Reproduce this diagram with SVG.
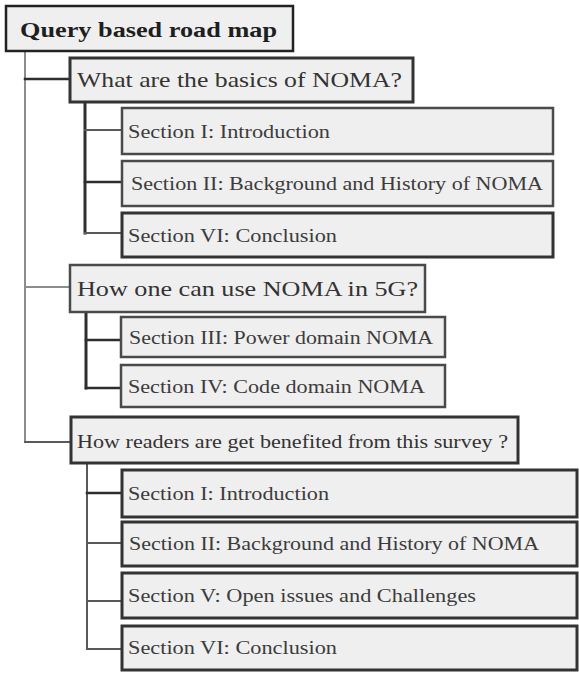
<svg xmlns="http://www.w3.org/2000/svg" width="579" height="673" viewBox="0 0 579 673" font-family="'Liberation Serif', 'Times New Roman', Times, serif">
  <style>
    .box { fill: #efefef; stroke: #4a4a4a; stroke-width: 2.5; }
    .box.heavy { stroke: #333; stroke-width: 3; }
    .root { fill: #efefef; stroke: #222; stroke-width: 2.5; }
    .t-root { font-size: 22px; font-weight: bold; fill: #1e1e1e; }
    .t-q { font-size: 21px; fill: #333; }
    .t-s { font-size: 18px; fill: #3c3c3c; }
    .ln { fill: none; stroke-linecap: square; }
    .light { stroke: #8c8c8c; stroke-width: 2; }
    .mid { stroke: #5a5a5a; stroke-width: 2; }
    .dark { stroke: #2e2e2e; stroke-width: 3; }
  </style>

  <!-- connectors -->
  <g id="connectors">
    <!-- trunk from the root -->
    <line class="ln light" x1="25" y1="51" x2="25" y2="442"/>
    <line class="ln dark" x1="25" y1="79" x2="70" y2="79" style="stroke-width:2.5"/>
    <line class="ln light" x1="25" y1="287" x2="70" y2="287"/>
    <line class="ln mid" x1="25" y1="442" x2="71" y2="442"/>
    <!-- basics branch -->
    <line class="ln dark" x1="85" y1="102" x2="85" y2="233"/>
    <line class="ln mid" x1="85" y1="130" x2="122" y2="130"/>
    <line class="ln dark" x1="85" y1="182" x2="122" y2="182" style="stroke-width:2.5"/>
    <line class="ln mid" x1="85" y1="233" x2="122" y2="233"/>
    <!-- 5G branch -->
    <line class="ln dark" x1="86" y1="312" x2="86" y2="388"/>
    <line class="ln dark" x1="86" y1="340" x2="121" y2="340" style="stroke-width:2.5"/>
    <line class="ln dark" x1="86" y1="388" x2="121" y2="388" style="stroke-width:2.5"/>
    <!-- readers branch -->
    <line class="ln mid" x1="87" y1="463" x2="87" y2="649"/>
    <line class="ln dark" x1="87" y1="493" x2="122" y2="493" style="stroke-width:2.5"/>
    <line class="ln mid" x1="87" y1="543" x2="122" y2="543"/>
    <line class="ln mid" x1="87" y1="601" x2="122" y2="601"/>
    <line class="ln mid" x1="87" y1="649" x2="122" y2="649"/>
  </g>

  <g id="root">
    <rect class="root" x="6" y="6" width="287" height="45"/>
    <text class="t-root" x="20" y="37" textLength="257" lengthAdjust="spacingAndGlyphs">Query based road map</text>
  </g>

  <g id="q-basics">
    <rect class="box heavy" x="70" y="58" width="343" height="44"/>
    <text class="t-q" x="77" y="87" textLength="325" lengthAdjust="spacingAndGlyphs">What are the basics of NOMA?</text>
  </g>
  <g id="basics-s1">
    <rect class="box" x="122" y="108" width="431" height="46"/>
    <text class="t-s" x="128" y="138" textLength="202" lengthAdjust="spacingAndGlyphs">Section I: Introduction</text>
  </g>
  <g id="basics-s2">
    <rect class="box" x="122" y="161" width="431" height="45"/>
    <text class="t-s" x="131" y="190" textLength="412" lengthAdjust="spacingAndGlyphs">Section II: Background and History of NOMA</text>
  </g>
  <g id="basics-s6">
    <rect class="box heavy" x="122" y="213" width="431" height="44"/>
    <text class="t-s" x="128" y="242" textLength="209" lengthAdjust="spacingAndGlyphs">Section VI: Conclusion</text>
  </g>

  <g id="q-5g">
    <rect class="box" x="70" y="265" width="355" height="47"/>
    <text class="t-q" x="77" y="296" textLength="341" lengthAdjust="spacingAndGlyphs">How one can use NOMA in 5G?</text>
  </g>
  <g id="fiveg-s3">
    <rect class="box" x="121" y="317" width="324" height="40"/>
    <text class="t-s" x="129" y="344" textLength="304" lengthAdjust="spacingAndGlyphs">Section III: Power domain NOMA</text>
  </g>
  <g id="fiveg-s4">
    <rect class="box" x="121" y="365" width="324" height="42"/>
    <text class="t-s" x="128" y="393" textLength="297" lengthAdjust="spacingAndGlyphs">Section IV: Code domain NOMA</text>
  </g>

  <g id="q-readers">
    <rect class="box heavy" x="71" y="417" width="447" height="46"/>
    <text class="t-q" x="77" y="448" style="font-size:19px" textLength="431" lengthAdjust="spacingAndGlyphs">How readers are get benefited from this survey ?</text>
  </g>
  <g id="readers-s1">
    <rect class="box heavy" x="122" y="470" width="455" height="47"/>
    <text class="t-s" x="128" y="500" textLength="201" lengthAdjust="spacingAndGlyphs">Section I: Introduction</text>
  </g>
  <g id="readers-s2">
    <rect class="box heavy" x="122" y="522" width="455" height="44"/>
    <text class="t-s" x="129" y="550" textLength="410" lengthAdjust="spacingAndGlyphs">Section II: Background and History of NOMA</text>
  </g>
  <g id="readers-s5">
    <rect class="box heavy" x="122" y="573" width="455" height="45"/>
    <text class="t-s" x="128" y="602" textLength="348" lengthAdjust="spacingAndGlyphs">Section V: Open issues and Challenges</text>
  </g>
  <g id="readers-s6">
    <rect class="box heavy" x="122" y="626" width="455" height="44"/>
    <text class="t-s" x="128" y="654" textLength="209" lengthAdjust="spacingAndGlyphs">Section VI: Conclusion</text>
  </g>
</svg>
